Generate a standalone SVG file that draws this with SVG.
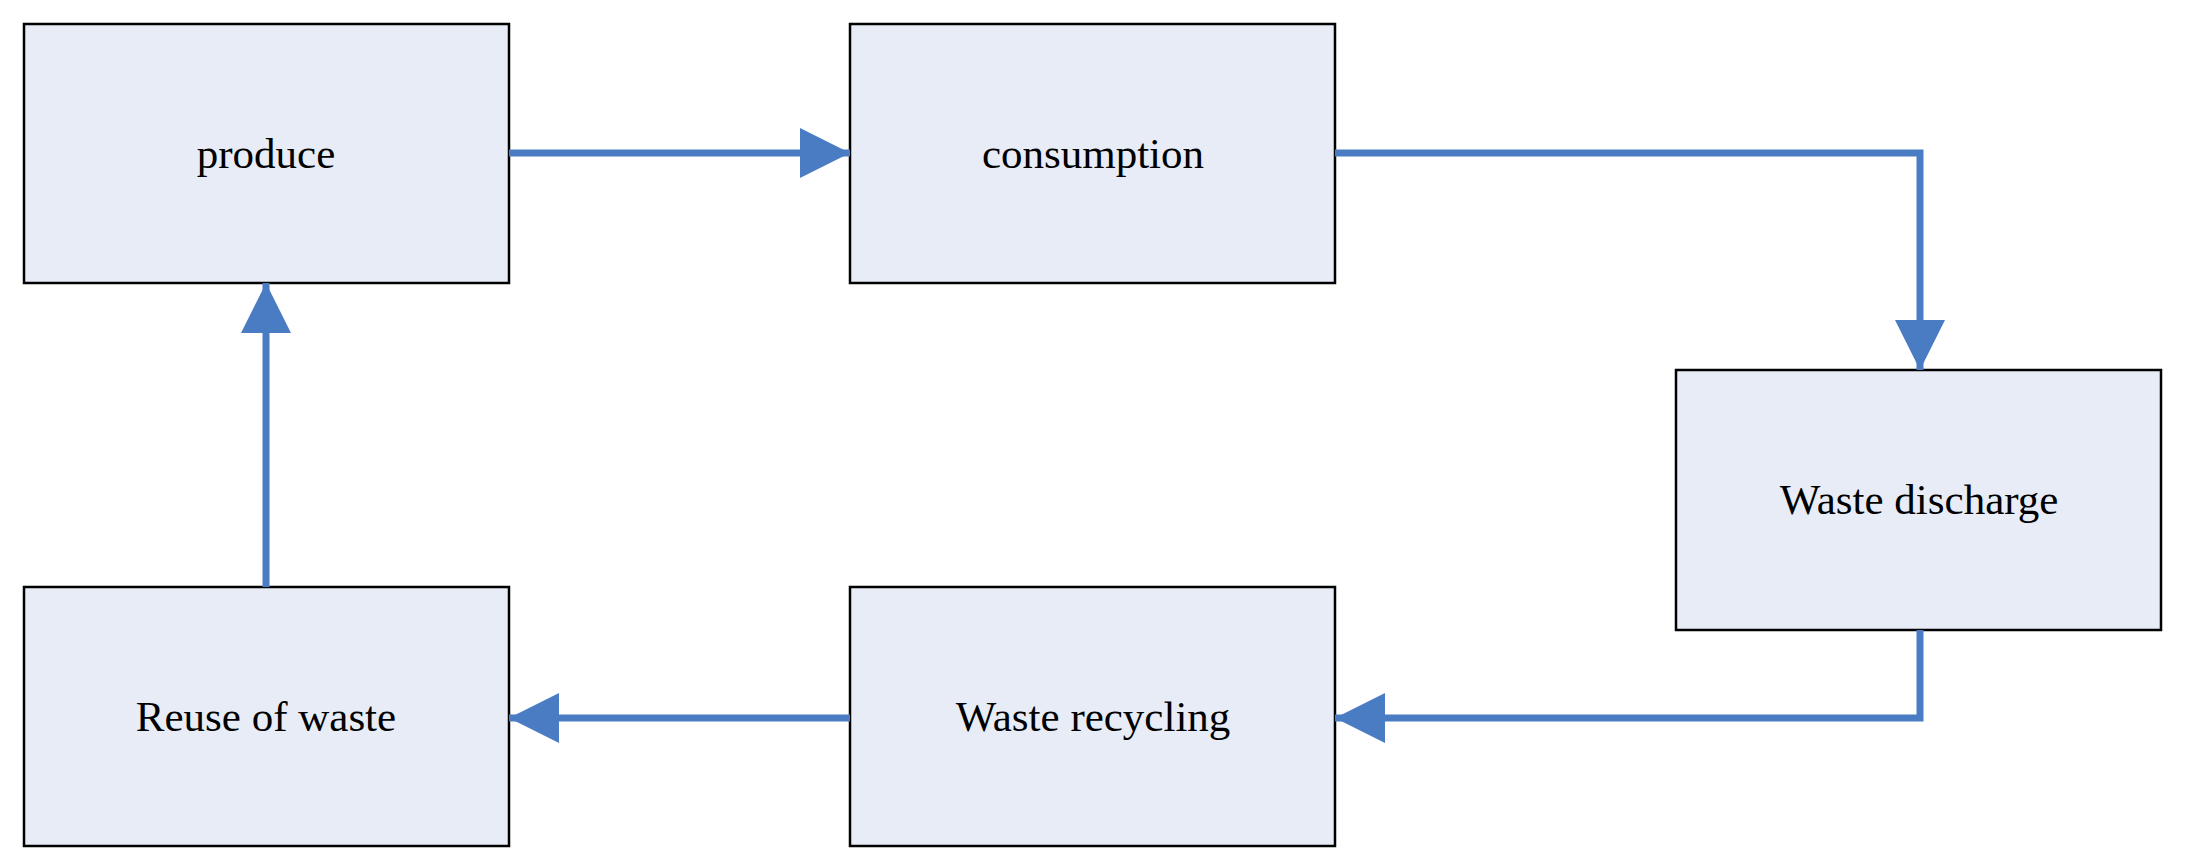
<svg xmlns="http://www.w3.org/2000/svg" width="2185" height="864" viewBox="0 0 2185 864">
<defs>
<style>
.box{fill:#E7ECF6;stroke:#000;stroke-width:2.5}
.lbl{font-family:"Liberation Serif",serif;font-size:43px;fill:#000;text-anchor:middle;dominant-baseline:central}
.c{fill:none;stroke:#4A7CC4;stroke-width:7}
</style>
<marker id="ah" markerUnits="userSpaceOnUse" markerWidth="52" markerHeight="50" refX="50" refY="25" orient="auto">
<path d="M0,0 L50,25 L0,50 Z" fill="#4A7CC4"/>
</marker>
</defs>
<rect width="2185" height="864" fill="#fff"/>
<g id="produce"><rect class="box" x="24" y="24" width="485" height="259"/><text class="lbl" x="266" y="153">produce</text></g>
<g id="consumption"><rect class="box" x="850" y="24" width="485" height="259"/><text class="lbl" x="1093" y="153">consumption</text></g>
<g id="discharge"><rect class="box" x="1676" y="370" width="485" height="260"/><text class="lbl" x="1919" y="499">Waste discharge</text></g>
<g id="recycling"><rect class="box" x="850" y="587" width="485" height="259"/><text class="lbl" x="1093" y="716">Waste recycling</text></g>
<g id="reuse"><rect class="box" x="24" y="587" width="485" height="259"/><text class="lbl" x="266" y="716">Reuse of waste</text></g>
<g id="connectors">
<path class="c" d="M509,153 H850" marker-end="url(#ah)"/>
<path class="c" d="M1335,153 H1920 V370" marker-end="url(#ah)"/>
<path class="c" d="M1920,630 V718 H1335" marker-end="url(#ah)"/>
<path class="c" d="M850,718 H509" marker-end="url(#ah)"/>
<path class="c" d="M266,587 V283" marker-end="url(#ah)"/>
</g>
</svg>
